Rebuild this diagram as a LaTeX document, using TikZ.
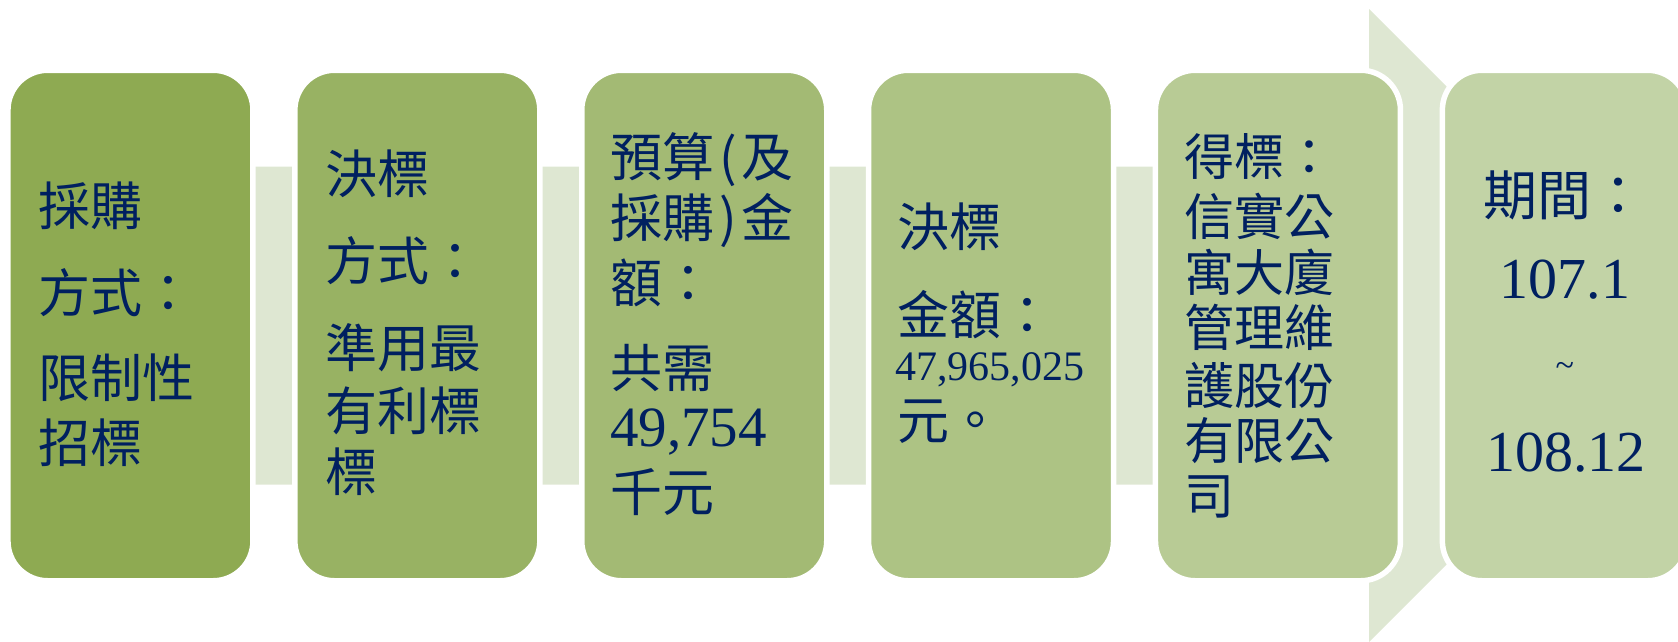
\documentclass[tikz,border=0pt]{standalone}
\usepackage{fontspec}
\setmainfont{Liberation Serif}
\newfontfamily\cjkfont{Noto Sans CJK TC}
\definecolor{cA}{RGB}{142,170,82}
\definecolor{cB}{RGB}{152,178,99}
\definecolor{cC}{RGB}{163,186,116}
\definecolor{cD}{RGB}{173,195,132}
\definecolor{cE}{RGB}{184,203,149}
\definecolor{cF}{RGB}{194,211,166}
\definecolor{arrowc}{RGB}{222,231,210}
\definecolor{navy}{RGB}{0,32,96}
\begin{document}
\begin{tikzpicture}[x=1pt,y=-1pt,
  stagebox/.style={rectangle, rounded corners=39.75pt, draw=white, line width=5.5pt,
    minimum width=245pt, minimum height=510.5pt, inner sep=0pt, outer sep=0pt},
  cj/.style={anchor=base west, inner sep=0pt, outer sep=0pt, text=navy,
    font=\cjkfont\fontsize{#1}{#1}\selectfont},
  cj/.default=52,
  num/.style={anchor=base west, inner sep=0pt, outer sep=0pt, text=navy,
    font=\rmfamily\fontsize{#1}{#1}\selectfont},
  num/.default=57]
\useasboundingbox (0,0) rectangle (1678,641);
\clip (0,0) rectangle (1678,641);
% background arrow
\fill[arrowc] (20,166.5) -- (1369,166.5) -- (1369,9) -- (1685.5,325.5)
  -- (1369,642) -- (1369,484.5) -- (20,484.5) -- cycle;
% stage boxes
\node[stagebox, fill=cA] (b1) at (130.45,325.5) {};
\node[stagebox, fill=cB] (b2) at (417.35,325.5) {};
\node[stagebox, fill=cC] (b3) at (704.25,325.5) {};
\node[stagebox, fill=cD] (b4) at (991.05,325.5) {};
\node[stagebox, fill=cE] (b5) at (1277.95,325.5) {};
\node[stagebox, fill=cF] (b6) at (1564.85,325.5) {};
% box 1
\node[cj] (t1a) at (38,225.8) {採購};
\node[cj] (t1b) at (38,312.8) {方式：};
\node[cj] (t1c) at (38,397.8) {限制性};
\node[cj] (t1d) at (38,462.8) {招標};
% box 2
\node[cj] (t2a) at (325,193.8) {決標};
\node[cj] (t2b) at (325,280.8) {方式：};
\node[cj] (t2c) at (325,367.8) {準用最};
\node[cj] (t2d) at (325,430.8) {有利標};
\node[cj] (t2e) at (325,491.8) {標};
% box 3
\node[cj] (t3a) at (610,176.8) {預算\kern5pt(\kern5pt及};
\node[cj] (t3b) at (610,237.8) {採購\kern5pt)\kern5pt金};
\node[cj] (t3c) at (610,302.8) {額：};
\node[cj] (t3d) at (610,387.8) {共需};
\node[num] (t3e) at (610,446.3) {49,754};
\node[cj] (t3f) at (610,511.8) {千元};
% box 4
\node[cj] (t4a) at (897,246.8) {決標};
\node[cj] (t4b) at (897,334.8) {金額：};
\node[num=42] (t4c) at (895,380) {47,965,025};
\node[cj] (t4d) at (897,439.8) {元。};
% box 5
\node[cj=50] (t5a) at (1184,175) {得標：};
\node[cj=50] (t5b) at (1184,235) {信實公};
\node[cj=50] (t5c) at (1184,291) {寓大廈};
\node[cj=50] (t5d) at (1184,346) {管理維};
\node[cj=50] (t5e) at (1184,404) {護股份};
\node[cj=50] (t5f) at (1184,459) {有限公};
\node[cj=50] (t5g) at (1184,514) {司};
% box 6
\node[cj=54, anchor=base] (t6a) at (1564.85,215.5) {期間：};
\node[num=58, anchor=base] (t6b) at (1564.85,298.6) {107.1};
\node[num=34, anchor=base] (t6c) at (1564.85,376) {\textasciitilde};
\node[num=58, anchor=base] (t6d) at (1566,471.6) {108.12};
\end{tikzpicture}
\end{document}
